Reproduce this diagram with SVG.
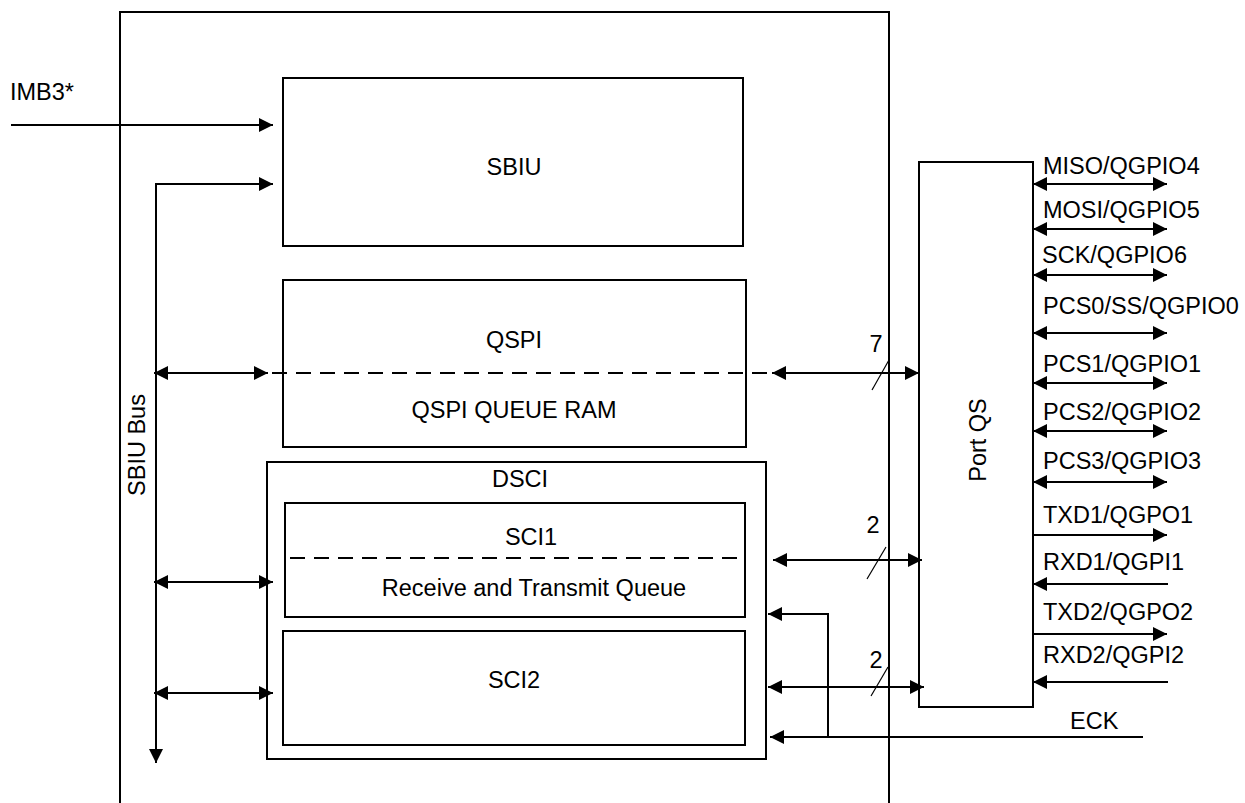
<svg xmlns="http://www.w3.org/2000/svg" width="1245" height="803" viewBox="0 0 1245 803">
<style>
  .box{fill:none;stroke:#000;stroke-width:2}
  .ln{fill:none;stroke:#000;stroke-width:2}
  .dash{fill:none;stroke:#000;stroke-width:2;stroke-dasharray:15 9}
  .thin{fill:none;stroke:#000;stroke-width:1.2}
  text{font-family:"Liberation Sans",Arial,sans-serif;font-size:23.5px;fill:#000}
  .c{text-anchor:middle}
</style>
<defs>
  <marker id="ah" markerUnits="userSpaceOnUse" markerWidth="15" markerHeight="14" refX="14" refY="7" orient="auto-start-reverse" viewBox="0 0 15 14">
    <path d="M0,0 L14,7 L0,14 z" fill="#000"/>
  </marker>
</defs>
<rect width="1245" height="803" fill="#fff"/>

<g id="outer"><path class="ln" d="M120,803 V12 H889 V803"/></g>

<g id="sbiu"><rect class="box" x="283" y="78" width="460" height="168"/><text class="c" x="514" y="175">SBIU</text></g>

<g id="qspi"><rect class="box" x="283" y="280" width="463" height="167"/><text class="c" x="514" y="348">QSPI</text><text class="c" x="514" y="418">QSPI QUEUE RAM</text></g>

<g id="dsci"><rect class="box" x="267" y="462" width="499" height="297"/><text class="c" x="520" y="487">DSCI</text></g>

<g id="sci1"><rect class="box" x="285" y="503" width="460" height="114"/><text class="c" x="531" y="545">SCI1</text><path class="dash" d="M290,558 H745"/><text class="c" x="534" y="596">Receive and Transmit Queue</text></g>

<g id="sci2"><rect class="box" x="283" y="631" width="462" height="114"/><text class="c" x="514" y="688">SCI2</text></g>

<g id="portqs"><rect class="box" x="919" y="162" width="114" height="545"/><text class="c" transform="translate(986,440) rotate(-90)">Port QS</text></g>

<g id="labels">
  <text x="10" y="100">IMB3*</text>
  <text class="c" transform="translate(145,445) rotate(-90)">SBIU Bus</text>
  <text class="c" x="876" y="352">7</text>
  <text class="c" x="873" y="533">2</text>
  <text class="c" x="876" y="668">2</text>
  <text x="1070" y="729">ECK</text>
  <text x="1043" y="174">MISO/QGPIO4</text>
  <text x="1043" y="218">MOSI/QGPIO5</text>
  <text x="1042" y="263">SCK/QGPIO6</text>
  <text x="1043" y="314">PCS0/SS/QGPIO0</text>
  <text x="1043" y="372">PCS1/QGPIO1</text>
  <text x="1043" y="420">PCS2/QGPIO2</text>
  <text x="1043" y="469">PCS3/QGPIO3</text>
  <text x="1043" y="523">TXD1/QGPO1</text>
  <text x="1043" y="570">RXD1/QGPI1</text>
  <text x="1043" y="620">TXD2/QGPO2</text>
  <text x="1043" y="663">RXD2/QGPI2</text>
</g>

<g id="connectors">
  <path class="ln" d="M11,125 H273" marker-end="url(#ah)"/>
  <path class="ln" d="M156,763 V184 H273" marker-start="url(#ah)" marker-end="url(#ah)"/>
  <path class="ln" d="M154,373 H268" marker-start="url(#ah)" marker-end="url(#ah)"/>
  <path class="dash" d="M272,373 H768"/>
  <path class="ln" d="M772,373 H919" marker-start="url(#ah)" marker-end="url(#ah)"/>
  <path class="thin" d="M872,390 L889,360"/>
  <path class="ln" d="M154,582 H273" marker-start="url(#ah)" marker-end="url(#ah)"/>
  <path class="ln" d="M154,693 H273" marker-start="url(#ah)" marker-end="url(#ah)"/>
  <path class="ln" d="M773,560 H922" marker-start="url(#ah)" marker-end="url(#ah)"/>
  <path class="thin" d="M867,579 L886,547"/>
  <path class="ln" d="M768,687 H924" marker-start="url(#ah)" marker-end="url(#ah)"/>
  <path class="thin" d="M871,696 L888,667"/>
  <path class="ln" d="M1143,737 H770" marker-end="url(#ah)"/>
  <path class="ln" d="M828,737 V614 H768" marker-end="url(#ah)"/>
  <path class="ln" d="M1033,184 H1167" marker-start="url(#ah)" marker-end="url(#ah)"/>
  <path class="ln" d="M1033,229 H1167" marker-start="url(#ah)" marker-end="url(#ah)"/>
  <path class="ln" d="M1033,275 H1167" marker-start="url(#ah)" marker-end="url(#ah)"/>
  <path class="ln" d="M1033,333 H1167" marker-start="url(#ah)" marker-end="url(#ah)"/>
  <path class="ln" d="M1033,383 H1167" marker-start="url(#ah)" marker-end="url(#ah)"/>
  <path class="ln" d="M1033,431 H1167" marker-start="url(#ah)" marker-end="url(#ah)"/>
  <path class="ln" d="M1033,482 H1167" marker-start="url(#ah)" marker-end="url(#ah)"/>
  <path class="ln" d="M1033,535 H1167" marker-end="url(#ah)"/>
  <path class="ln" d="M1168,584 H1033" marker-end="url(#ah)"/>
  <path class="ln" d="M1033,634 H1167" marker-end="url(#ah)"/>
  <path class="ln" d="M1168,682 H1033" marker-end="url(#ah)"/>
</g>
</svg>
